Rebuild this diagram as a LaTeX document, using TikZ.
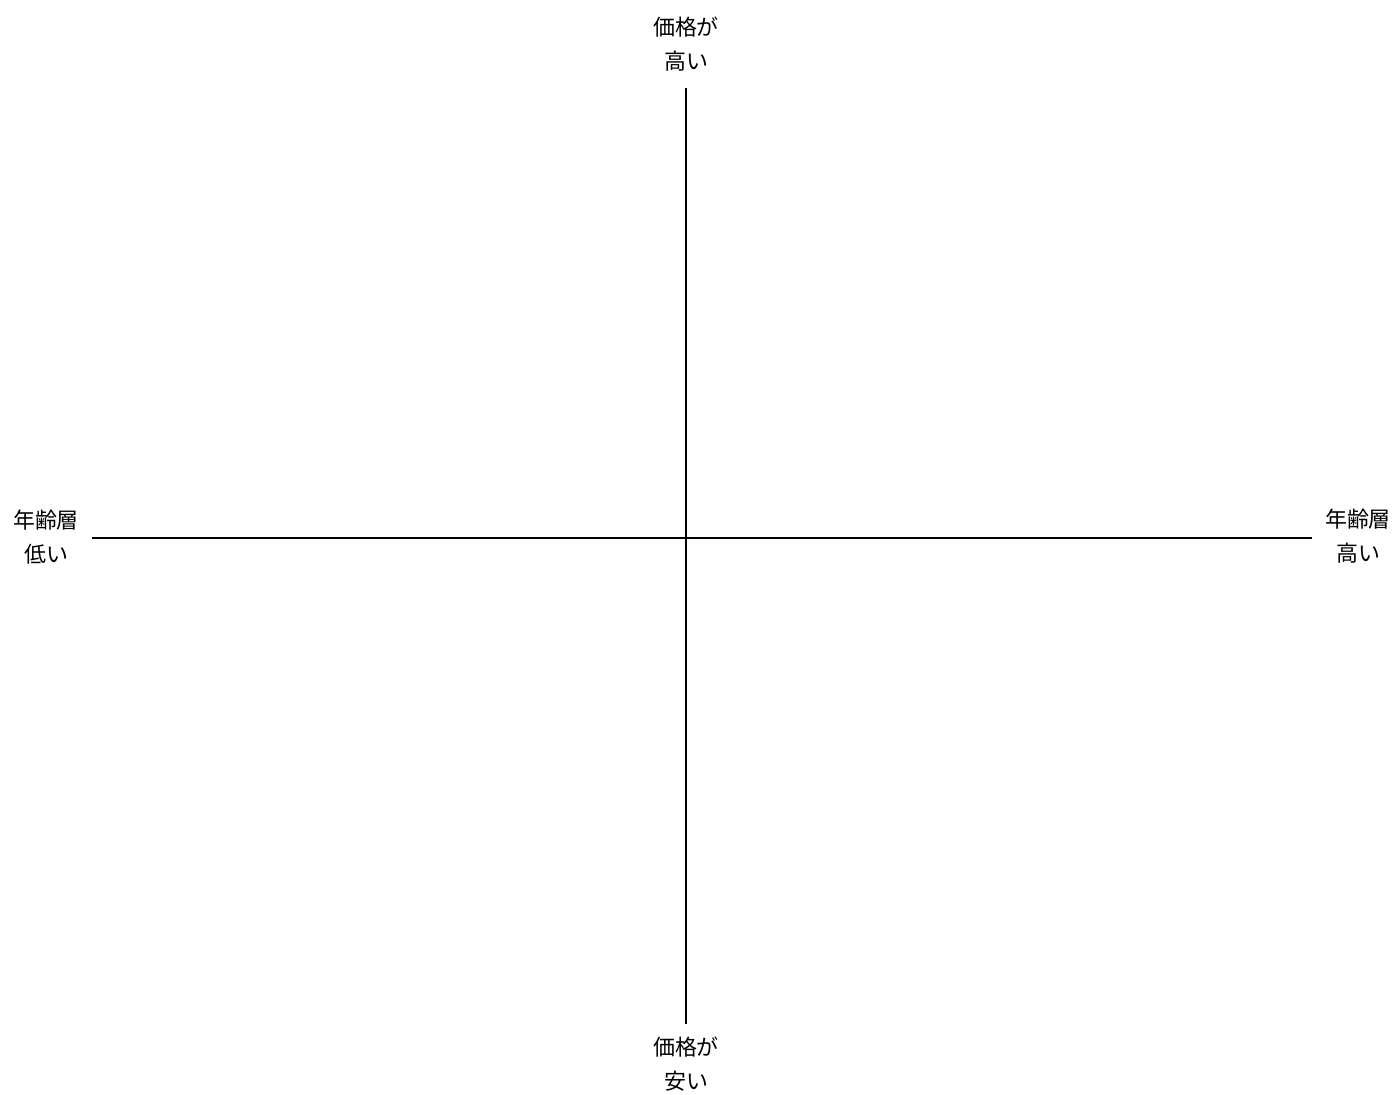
\documentclass[tikz,border=0pt]{standalone}
\usepackage{fontspec}
\usepackage{tikz}
\usetikzlibrary{positioning}
\newfontfamily\cjk{Noto Sans CJK JP}

\begin{document}
\begin{tikzpicture}[x=0.02cm, y=-0.02cm,
    axis/.style={line width=1.7pt, black},
    label/.style={font=\cjk\fontsize{12.5}{19.5}\selectfont, align=center, inner sep=0pt}]
    \useasboundingbox (0, 0) rectangle (1394, 1095);

    % 軸の端点
    \coordinate (top) at (686, 88);
    \coordinate (bottom) at (686, 1024);
    \coordinate (left) at (92, 538);
    \coordinate (right) at (1312, 538);

    % 軸
    \draw[axis] (left) -- (right);
    \draw[axis] (top) -- (bottom);

    % ラベル
    \node[label] (pricehigh) at (686, 44) {価格が\\高い};
    \node[label] (pricelow) at (686, 1064) {価格が\\安い};
    \node[label] (agelow) at (46, 537) {年齢層\\低い};
    \node[label] (agehigh) at (1358, 536) {年齢層\\高い};
\end{tikzpicture}
\end{document}
